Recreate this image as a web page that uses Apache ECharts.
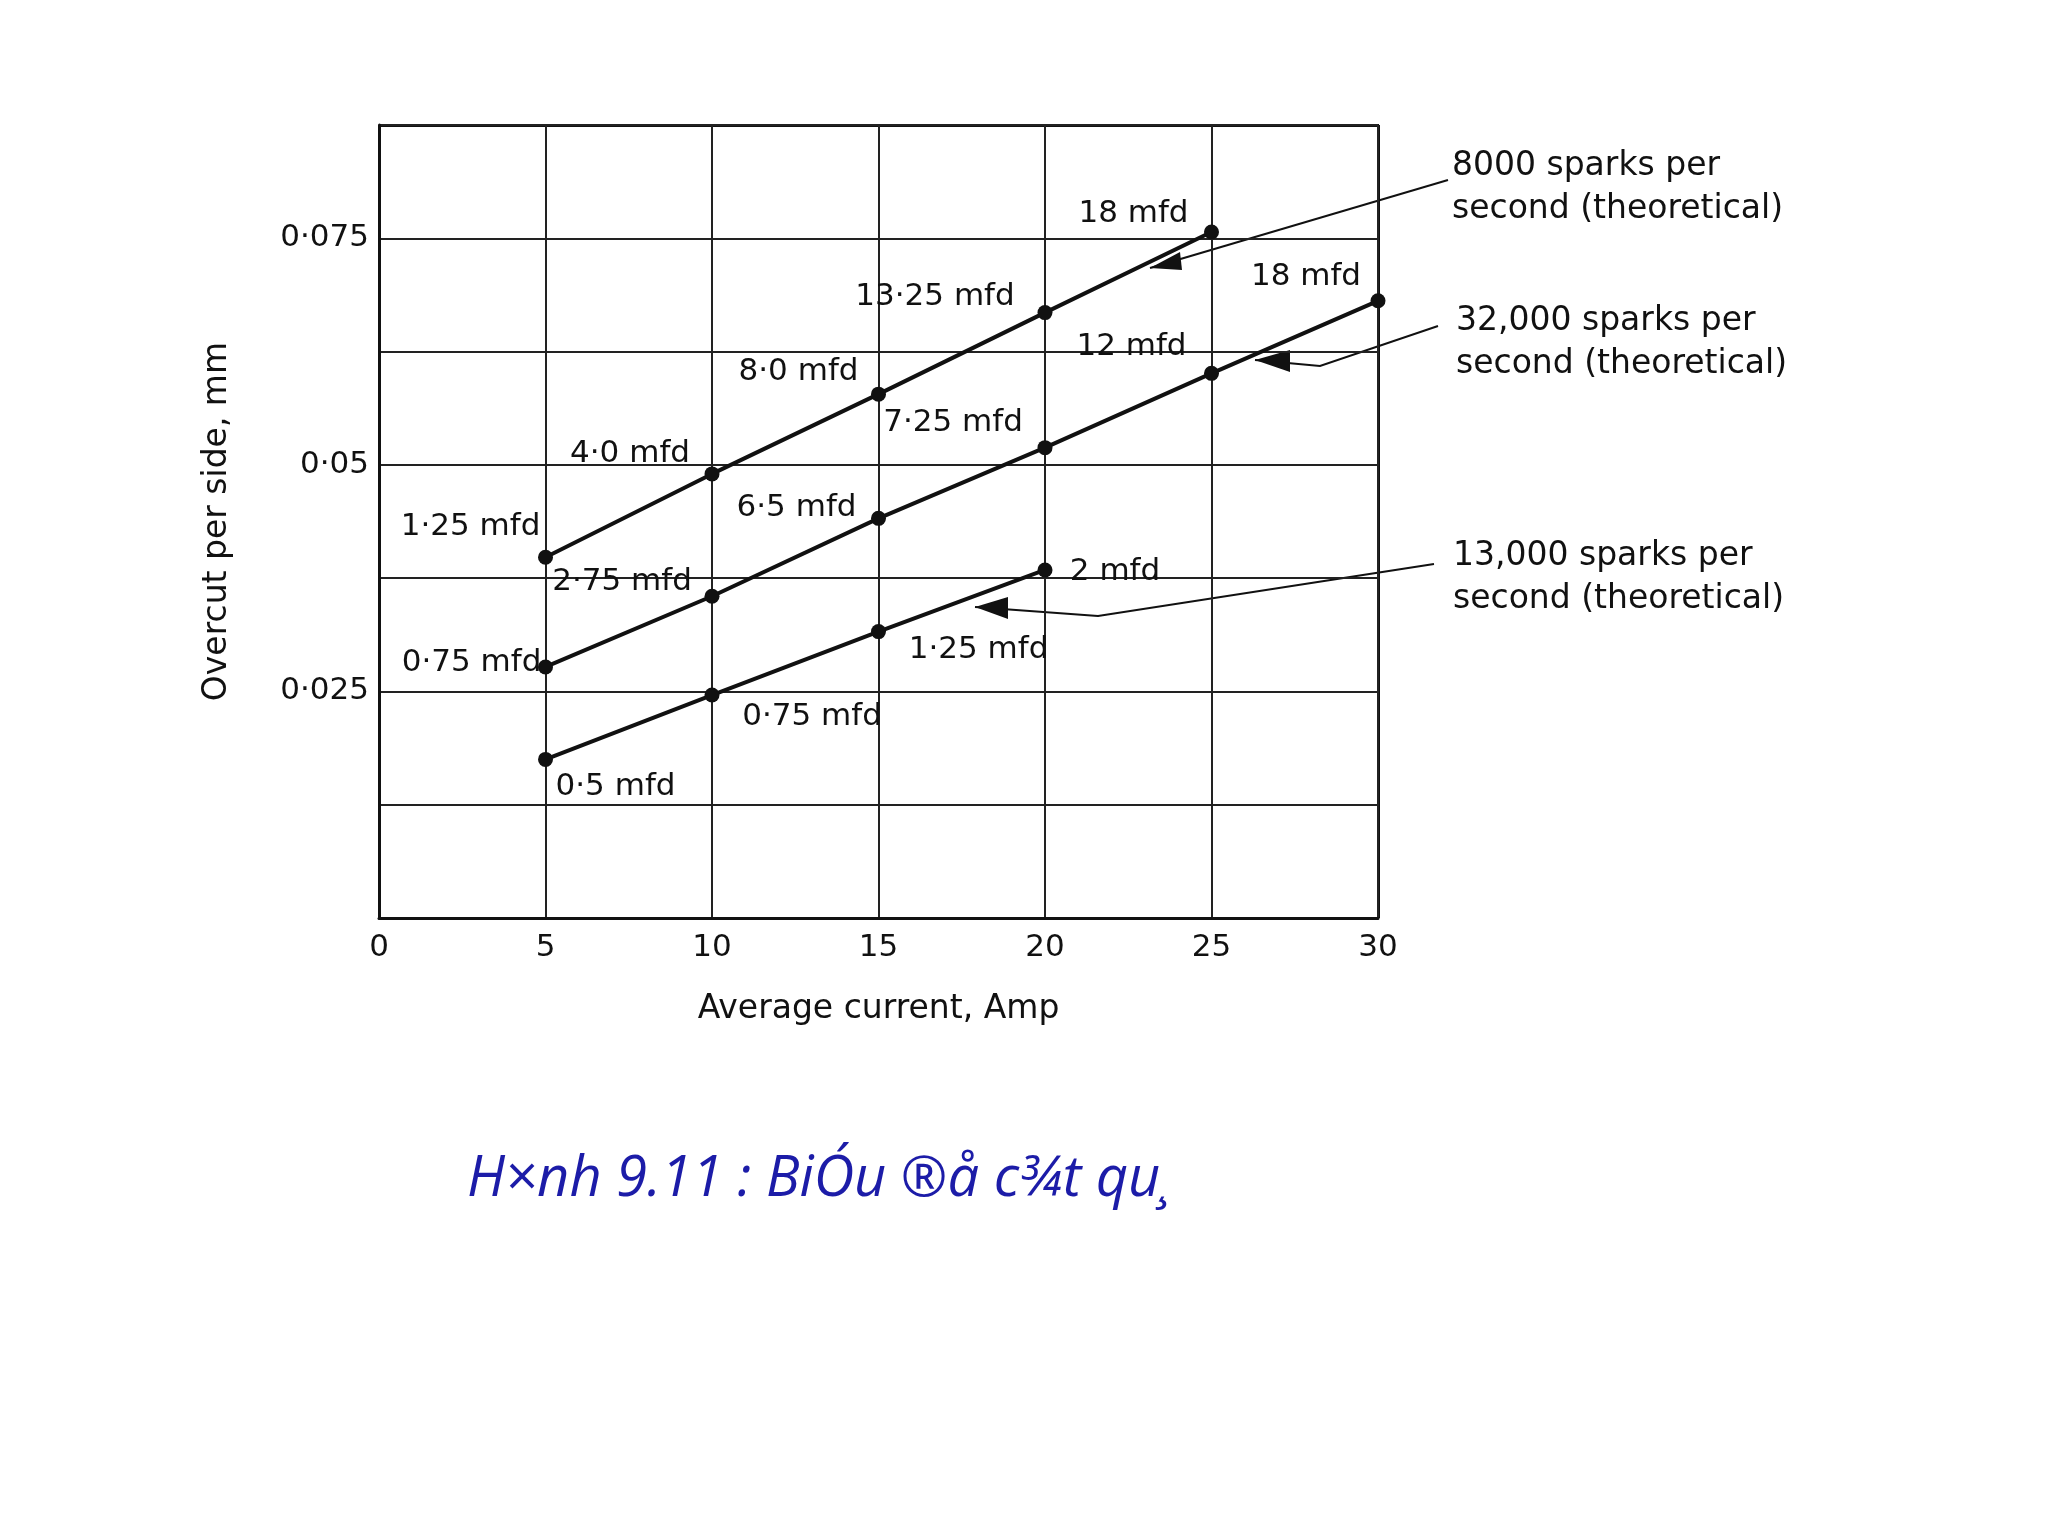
<!DOCTYPE html>
<html><head><meta charset="utf-8">
<script src="https://cdn.jsdelivr.net/npm/echarts@6/dist/echarts.min.js"></script>
<style>html,body{margin:0;background:#fff}#main{width:2048px;height:1536px}</style>
</head><body><div id="main"></div>
<script>
// data
var xA = [5, 10, 15, 20, 25];
var yA = [0.0398, 0.049, 0.0578, 0.0668, 0.0757];
var labA = ['1·25 mfd', '4·0 mfd', '8·0 mfd', '13·25 mfd', '18 mfd'];
var xB = [5, 10, 15, 20, 25, 30];
var yB = [0.0277, 0.0355, 0.0441, 0.0519, 0.0601, 0.0681];
var labB = ['0·75 mfd', '2·75 mfd', '6·5 mfd', '7·25 mfd', '12 mfd', '18 mfd'];
var xC = [5, 10, 15, 20];
var yC = [0.0175, 0.0246, 0.0316, 0.0384];
var labC = ['0·5 mfd', '0·75 mfd', '1·25 mfd', '2 mfd'];
var yTickLabels = {0.025: '0·025', 0.05: '0·05', 0.075: '0·075'};

var font = 'DejaVu Sans';
var myChart = echarts.init(document.getElementById('main'));

function mk(xs, ys, labs, offs) {
  return xs.map(function (x, i) {
    return {value: [x, ys[i]], label: {show: true, formatter: labs[i], position: 'inside', offset: offs[i]}};
  });
}
var offA = [[-75, -30], [-82, -20], [-80, -22], [-110, -16], [-78, -18]];
var offB = [[-74, -4], [-90, -14], [-82, -10], [-92, -25], [-80, -26], [-72, -24]];
var offC = [[70, 28], [100, 22], [100, 18], [70, 2]];

function series(data) {
  return {
    type: 'line', data: data, symbol: 'circle', symbolSize: 15,
    lineStyle: {color: '#111', width: 4}, itemStyle: {color: '#111'},
    label: {color: '#111', fontSize: 31, fontFamily: font}
  };
}

myChart.setOption({
  backgroundColor: '#fff',
  grid: {left: 379, right: 670, top: 125, bottom: 618},
  xAxis: {
    type: 'value', min: 0, max: 30, interval: 5,
    name: 'Average current, Amp', nameLocation: 'middle', nameGap: 75,
    nameTextStyle: {fontSize: 33, fontFamily: font, color: '#111'},
    axisLine: {lineStyle: {color: '#111', width: 3}},
    axisTick: {show: false},
    axisLabel: {fontSize: 31, fontFamily: font, color: '#111', margin: 14},
    splitLine: {lineStyle: {color: '#222', width: 2}}
  },
  yAxis: {
    type: 'value', min: 0, max: 0.0875, interval: 0.0125,
    name: 'Overcut per side, mm', nameLocation: 'middle', nameGap: 145, nameRotate: 90,
    nameTextStyle: {fontSize: 33, fontFamily: font, color: '#111'},
    axisLine: {lineStyle: {color: '#111', width: 3}},
    axisTick: {show: false},
    axisLabel: {fontSize: 31, fontFamily: font, color: '#111', margin: 10,
      formatter: function (v) { return yTickLabels[+v.toFixed(4)] || ''; }},
    splitLine: {lineStyle: {color: '#222', width: 2}}
  },
  series: [series(mk(xA, yA, labA, offA)), series(mk(xB, yB, labB, offB)), series(mk(xC, yC, labC, offC))],
  graphic: [
    {type: 'rect', shape: {x: 1377, y: 125, width: 3, height: 793}, style: {fill: '#111'}},
    {type: 'rect', shape: {x: 379, y: 124, width: 1000, height: 3}, style: {fill: '#111'}},
    {type: 'text', left: 1452, top: 145, style: {text: '8000 sparks per\nsecond (theoretical)', font: '33px "DejaVu Sans"', lineHeight: 43, fill: '#111'}},
    {type: 'text', left: 1456, top: 300, style: {text: '32,000 sparks per\nsecond (theoretical)', font: '33px "DejaVu Sans"', lineHeight: 43, fill: '#111'}},
    {type: 'text', left: 1453, top: 535, style: {text: '13,000 sparks per\nsecond (theoretical)', font: '33px "DejaVu Sans"', lineHeight: 43, fill: '#111'}},
    {type: 'polyline', shape: {points: [[1448, 180], [1150, 268]]}, style: {stroke: '#111', lineWidth: 2}},
    {type: 'polygon', shape: {points: [[1150, 268], [1180, 252], [1182, 270]]}, style: {fill: '#111'}},
    {type: 'polyline', shape: {points: [[1438, 326], [1320, 366], [1255, 360]]}, style: {stroke: '#111', lineWidth: 2}},
    {type: 'polygon', shape: {points: [[1255, 360], [1290, 350], [1290, 372]]}, style: {fill: '#111'}},
    {type: 'polyline', shape: {points: [[1434, 564], [1098, 616], [975, 607]]}, style: {stroke: '#111', lineWidth: 2}},
    {type: 'polygon', shape: {points: [[975, 607], [1008, 597], [1008, 619]]}, style: {fill: '#111'}},
    {type: 'text', left: 467, top: 1152, style: {text: 'H×nh 9.11 : BiÓu ®å c¾t qu¸', font: 'italic 56px "Open Sans"', fill: '#1c1ca8'}}
  ]
});
</script></body></html>
